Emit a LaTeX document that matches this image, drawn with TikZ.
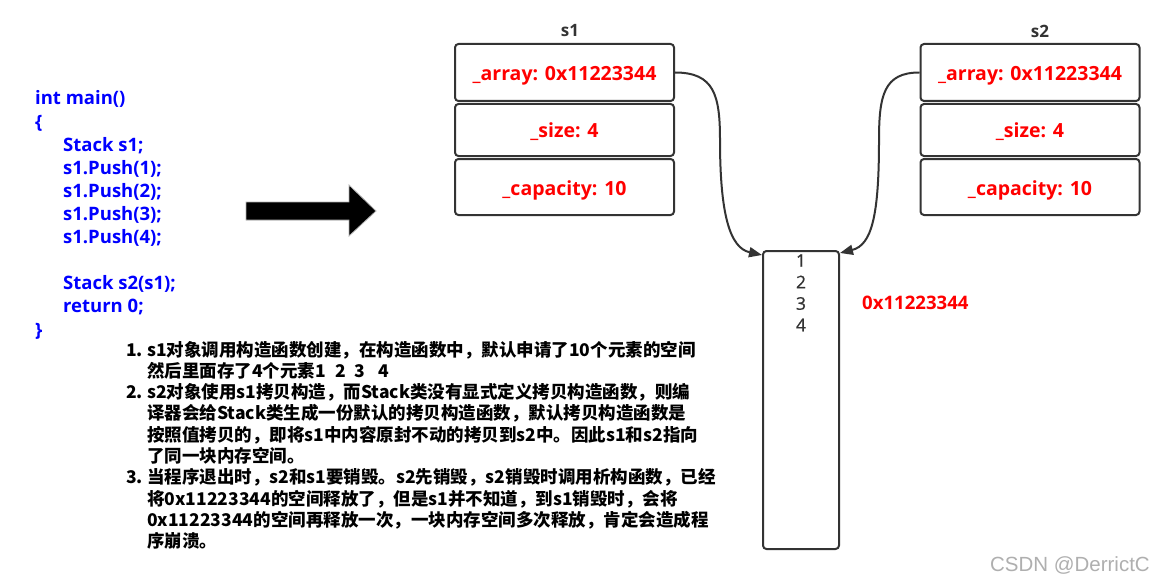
\documentclass[tikz,border=0pt]{standalone}
\usepackage{fontspec}
\setmainfont{Open Sans}
\newfontfamily\cjk{Noto Sans CJK SC}
\newfontfamily\wmfont{Liberation Sans}
\newfontfamily\numfont{Open Sans}[FakeBold=0.8]
\usetikzlibrary{arrows.meta}
\definecolor{codeblue}{RGB}{0,0,255}
\definecolor{fieldred}{RGB}{255,0,0}
\definecolor{edgegray}{RGB}{51,51,51}
\definecolor{wmgray}{RGB}{175,175,175}
\begin{document}
\begin{tikzpicture}[x=1pt,y=-1pt,
  field/.style={draw=edgegray, line width=2pt, rounded corners=3.5pt, minimum width=219pt,
    text=fieldred, font=\fontsize{19.5}{22}\selectfont\bfseries, inner sep=0pt,
    text height=17pt, text depth=1pt},
  objlabel/.style={text=edgegray, font=\fontsize{17}{20}\selectfont\bfseries, inner sep=0pt},
  codeline/.style={anchor=base west, inner sep=0pt, text=codeblue, font=\fontsize{18.5}{22}\selectfont\bfseries},
  noteline/.style={anchor=base west, inner sep=0pt, text=black, font=\cjk\fontsize{17.5}{22}\selectfont\bfseries},
  memnum/.style={text=edgegray, font=\numfont\fontsize{17.5}{20}\selectfont, inner sep=0pt},
  link/.style={draw=edgegray, line width=2pt, -{Triangle[length=13pt,width=10pt]}},
]
\useasboundingbox (0,0) rectangle (1153,583);
\fill[white] (0,0) rectangle (1153,583);

% code
\node[codeline] (c0) at (35,105) {int main()};
\node[codeline] (c1) at (35,128.1) {\{};
\node[codeline] (c2) at (63,151.2) {Stack s1;};
\node[codeline] (c3) at (63,174.3) {s1.Push(1);};
\node[codeline] (c4) at (63,197.4) {s1.Push(2);};
\node[codeline] (c5) at (63,220.5) {s1.Push(3);};
\node[codeline] (c6) at (63,243.6) {s1.Push(4);};
\node[codeline] (c7) at (63,289.8) {Stack s2(s1);};
\node[codeline] (c8) at (63,312.9) {return 0;};
\node[codeline] (c9) at (35,336) {\}};

% big arrow
\fill[black, draw=gray!60, line width=0.8pt] (246,202) -- (349,202) -- (349,185) -- (376,211)
  -- (349,236) -- (349,220) -- (246,220) -- cycle;

% notes
\node[noteline] (n1num) at (126,356) {1.};
\node[noteline] (n1a) at (147,356) {s1对象调用构造函数创建，在构造函数中，默认申请了10个元素的空间};
\node[noteline] (n1b) at (147,377.3) {然后里面存了4个元素1\hspace{9pt}2\hspace{9pt}3\hspace{13pt}4};
\node[noteline] (n2num) at (126,398.6) {2.};
\node[noteline] (n2a) at (147,398.6) {s2对象使用s1拷贝构造，而Stack类没有显式定义拷贝构造函数，则编};
\node[noteline] (n2b) at (147,419.9) {译器会给Stack类生成一份默认的拷贝构造函数，默认拷贝构造函数是};
\node[noteline] (n2c) at (147,441.2) {按照值拷贝的，即将s1中内容原封不动的拷贝到s2中。因此s1和s2指向};
\node[noteline] (n2d) at (147,462.5) {了同一块内存空间。};
\node[noteline] (n3num) at (126,483.8) {3.};
\node[noteline] (n3a) at (147,483.8) {当程序退出时，s2和s1要销毁。s2先销毁，s2销毁时调用析构函数，已经};
\node[noteline] (n3b) at (147,505.1) {将0x11223344的空间释放了，但是s1并不知道，到s1销毁时，会将};
\node[noteline] (n3c) at (147,526.4) {0x11223344的空间再释放一次，一块内存空间多次释放，肯定会造成程};
\node[noteline] (n3d) at (147,547.7) {序崩溃。};

% s1 object
\node[objlabel] (s1lab) at (570,31) {s1};
\node[field, minimum height=57pt] (s1a) at (564.5,72.5) {\_array: 0x11223344};
\node[field, minimum height=52pt] (s1b) at (564.5,130) {\_size: 4};
\node[field, minimum height=56pt] (s1c) at (564.5,187) {\_capacity: 10};

% s2 object
\node[objlabel] (s2lab) at (1040,31) {s2};
\node[field, minimum height=57pt] (s2a) at (1030,72.5) {\_array: 0x11223344};
\node[field, minimum height=52pt] (s2b) at (1030,130) {\_size: 4};
\node[field, minimum height=56pt] (s2c) at (1030,187) {\_capacity: 10};

% memory block
\node[draw=edgegray, line width=2pt, rounded corners=3.5pt, minimum width=76pt,
  minimum height=298pt, inner sep=0pt] (mem) at (801,400) {};
\node[memnum] (m1) at (801,260.5) {1};
\node[memnum] (m2) at (801,282) {2};
\node[memnum] (m3) at (801,303.5) {3};
\node[memnum] (m4) at (801,325) {4};
\node[text=fieldred, font=\fontsize{18.6}{22}\selectfont\bfseries, inner sep=0pt, anchor=base west] (addr) at (862,309.5) {0x11223344};

% connectors
\coordinate (memL) at ([yshift=-5pt]mem.north west);
\coordinate (memR) at ([yshift=-3pt]mem.north east);
\draw[link] (s1a.east) .. controls (714,72.5) and (720,95) .. (720,140)
  .. controls (720,215) and (730,248) .. (memL);
\draw[link] (s2a.west) .. controls (884,72.5) and (879,95) .. (879,140)
  .. controls (879,215) and (872,245) .. (memR);

% watermark
\node[anchor=base east, inner sep=0pt, text=wmgray, font=\wmfont\fontsize{20.5}{24}\selectfont] (wm) at (1150,571) {CSDN @DerrictC};
\end{tikzpicture}
\end{document}
